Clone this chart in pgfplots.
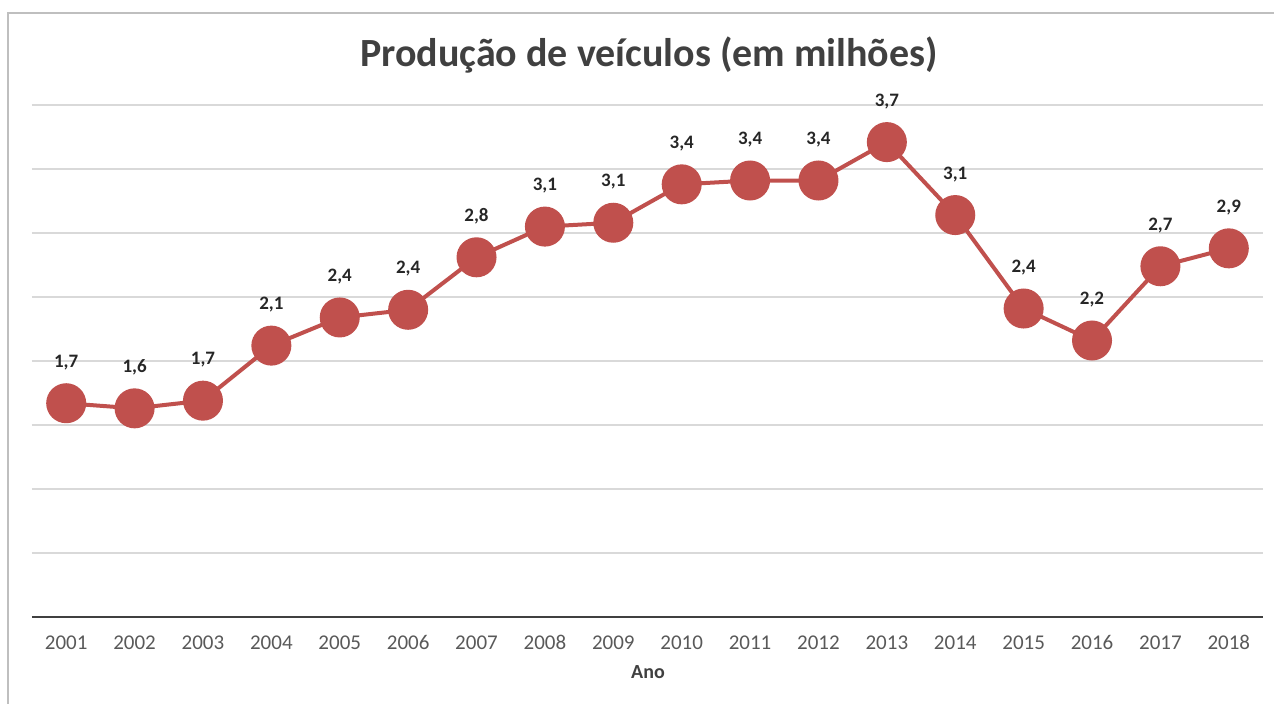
\documentclass[border=0pt]{standalone}
\usepackage{fontspec}
\setmainfont{Carlito}
\usepackage{pgfplots}
\usepackage{pgfplotstable}
\pgfplotsset{compat=1.18}
\definecolor{serie}{RGB}{192,80,77}
\definecolor{titlegray}{RGB}{64,64,64}
\definecolor{tickgray}{RGB}{89,89,89}
\definecolor{gridgray}{RGB}{217,217,217}
\definecolor{framegray}{RGB}{191,191,191}
\pgfplotstableread{
x y l
1 1.67 1,7
2 1.63 1,6
3 1.69 1,7
4 2.12 2,1
5 2.34 2,4
6 2.40 2,4
7 2.81 2,8
8 3.05 3,1
9 3.08 3,1
10 3.38 3,4
11 3.41 3,4
12 3.41 3,4
13 3.71 3,7
14 3.14 3,1
15 2.41 2,4
16 2.16 2,2
17 2.74 2,7
18 2.88 2,9
}\datatable
\begin{document}
\begin{tikzpicture}
\useasboundingbox (0,0) rectangle (637pt,352pt);
\draw[framegray, line width=0.8pt] (4pt,345.5pt) rectangle (645pt,-5pt);
\begin{axis}[
  at={(16pt,43.5pt)}, anchor=origin,
  scale only axis, width=615.5pt, height=256pt,
  xmin=0.5, xmax=18.5, ymin=0, ymax=4,
  axis lines*=left,
  x axis line style={line width=1.4pt, draw=titlegray, -},
  y axis line style={draw=none},
  xtick={1,...,18},
  xticklabels={2001,2002,2003,2004,2005,2006,2007,2008,2009,2010,2011,2012,2013,2014,2015,2016,2017,2018},
  xtick style={draw=none},
  xticklabel style={font=\fontsize{10.5pt}{12pt}\selectfont, text=tickgray, anchor=center, text height=7pt, text depth=0pt, yshift=-13pt},
  ytick={0.5,1,...,4},
  yticklabels={},
  ytick style={draw=none},
  ymajorgrids, grid style={gridgray, line width=0.6pt},
  clip=false,
]
\addplot[serie, line width=2pt, mark=*, mark size=9pt, mark options={fill=serie, draw=serie},
  nodes near coords, point meta=explicit symbolic,
  every node near coord/.append style={anchor=center, yshift=20.5pt, text=black!85, font=\bfseries\fontsize{9.5pt}{11pt}\selectfont}]
  table[x=x, y=y, meta=l] {\datatable};
\end{axis}
\node[font=\bfseries\fontsize{20pt}{24pt}\selectfont, text=titlegray] at (324.5pt,324.5pt) {Produção de veículos (em milhões)};
\node[font=\bfseries\fontsize{10pt}{12pt}\selectfont, text=titlegray] at (324pt,16pt) {Ano};
\end{tikzpicture}
\end{document}
